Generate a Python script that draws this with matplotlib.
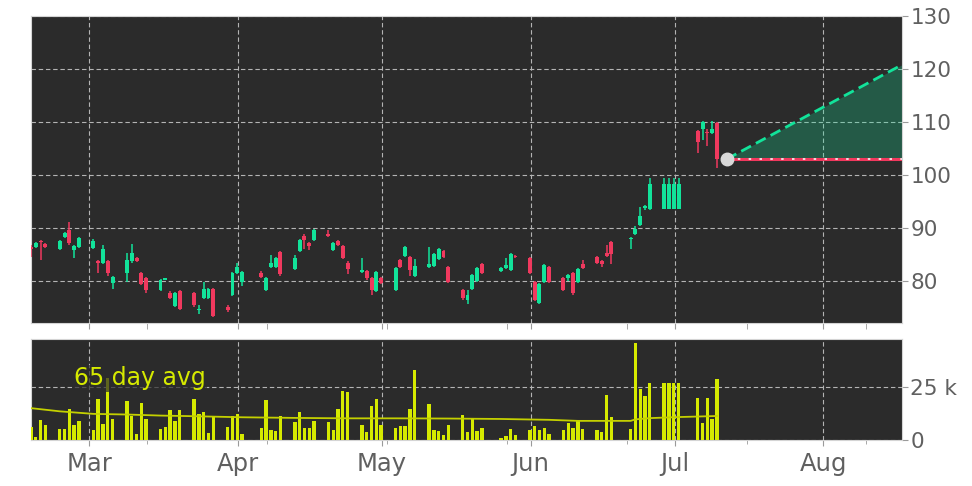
import numpy as np
import pandas as pd
import matplotlib
matplotlib.use('Agg')
import matplotlib.pyplot as plt
import matplotlib.dates as mdates


# trading days shown (a few weekdays are missing in the source)
skipped = ['2021-04-02', '2021-05-24', '2021-06-18', '2021-07-02']
days = pd.bdate_range('2021-02-16', '2021-07-09')
days = days[~days.isin(pd.to_datetime(skipped))]

opens = [86.5, 86.5, 87.6, 87.0, 86.1, 88.4, 89.6, 85.9, 86.5,
         86.2, 83.7, 83.5, 83.7, 79.7,
         81.6, 83.7, 84.4, 81.6, 80.5,
         78.3, 80.3, 77.7, 75.3, 78.2,
         77.7, 74.5, 76.9, 76.9, 78.5,
         75.1, 77.3, 81.6, 79.9,
         81.6, 78.4, 82.7, 82.7, 85.4,
         82.3, 85.6, 88.5, 87.2, 87.7,
         88.8, 85.9, 87.5, 86.6, 83.5,
         81.8, 81.9, 80.5, 78.1, 80.5,
         78.4, 84.0, 84.8, 84.6, 81.0,
         82.7, 82.8, 84.2, 85.7, 82.6,
         78.3, 76.4, 78.6, 80.1, 83.3,
         82.0, 82.4, 82.1, 84.8,
         84.4, 79.9, 75.9, 79.9, 82.6,
         80.5, 80.5, 81.6, 79.9, 83.3,
         84.6, 83.8, 85.3, 87.3,
         88.0, 88.9, 90.5, 93.8, 93.6,
         93.6, 93.6, 93.6, 93.6,
         108.3, 108.7, 108.2, 107.9, 109.9]
highs = [86.8, 87.4, 87.8, 87.2, 87.7, 89.2, 91.1, 86.9, 88.4,
         87.9, 84.0, 86.9, 84.0, 81.0,
         85.3, 87.0, 84.6, 81.8, 80.7,
         80.4, 80.6, 78.1, 78.0, 78.4,
         77.9, 75.4, 79.9, 78.7, 78.7,
         75.4, 81.8, 83.4, 82.0,
         82.0, 80.8, 84.9, 84.6, 85.6,
         85.0, 88.0, 88.9, 87.3, 89.8,
         89.6, 87.4, 87.7, 86.8, 83.7,
         84.4, 82.1, 80.7, 81.9, 80.7,
         82.7, 84.2, 86.7, 84.8, 84.1,
         86.5, 85.3, 86.3, 85.9, 82.8,
         78.5, 78.4, 81.3, 82.6, 83.5,
         82.6, 84.4, 85.3, 85.0,
         84.6, 80.1, 79.6, 83.3, 82.8,
         80.7, 81.3, 81.8, 82.4, 83.9,
         84.8, 84.0, 86.8, 87.5,
         88.4, 90.3, 94.0, 94.4, 99.4,
         99.4, 99.4, 99.4, 99.4,
         108.5, 110.2, 108.6, 110.2, 110.0]
lows = [84.6, 86.3, 83.9, 86.2, 85.9, 88.2, 86.8, 84.3, 86.3,
        86.0, 81.5, 83.3, 81.0, 78.6,
        79.9, 83.4, 83.6, 79.2, 77.8,
        78.1, 80.2, 76.6, 75.1, 74.6,
        75.2, 73.8, 76.7, 76.7, 73.3,
        74.2, 77.1, 81.4, 79.0,
        80.5, 78.1, 82.5, 82.5, 81.0,
        82.1, 85.4, 86.1, 85.9, 87.5,
        88.3, 85.7, 86.6, 84.1, 81.4,
        81.6, 80.3, 77.4, 77.9, 79.5,
        78.2, 82.5, 84.6, 81.0, 80.8,
        82.5, 82.6, 84.0, 84.3, 79.7,
        76.4, 75.6, 78.4, 79.9, 81.4,
        81.8, 82.2, 81.9, 84.3,
        81.3, 76.2, 75.7, 79.7, 79.7,
        78.2, 80.0, 77.4, 79.7, 82.3,
        83.3, 82.7, 84.6, 83.2,
        86.0, 88.7, 90.3, 93.4, 93.4,
        93.6, 93.6, 93.6, 93.6,
        104.2, 106.7, 105.5, 107.7, 101.4]
closes = [86.0, 87.2, 87.3, 86.4, 87.5, 89.0, 87.2, 86.7, 88.2,
          87.5, 83.4, 86.1, 81.5, 80.8,
          84.0, 85.3, 83.8, 79.4, 78.3,
          80.2, 80.5, 76.9, 77.8, 74.8,
          75.4, 74.7, 78.6, 78.5, 73.5,
          74.6, 81.5, 82.6, 81.8,
          80.8, 80.5, 83.5, 84.4, 81.3,
          84.4, 87.8, 87.8, 86.7, 89.6,
          88.5, 87.2, 86.8, 84.3, 82.2,
          82.1, 80.5, 78.3, 81.7, 79.7,
          82.5, 82.7, 86.5, 82.1, 82.8,
          83.3, 85.1, 86.1, 84.5, 79.9,
          76.9, 77.3, 81.1, 82.4, 81.6,
          82.4, 83.0, 85.1, 84.5,
          81.5, 76.4, 79.4, 83.1, 79.9,
          78.4, 81.1, 77.8, 82.2, 82.5,
          83.5, 83.2, 84.8, 85.1,
          88.2, 89.9, 92.3, 94.2, 98.4,
          98.4, 98.4, 98.4, 98.4,
          106.3, 110.0, 107.9, 108.6, 103.0]
# volume in thousands
volumes = [6.0, 1.6, 9.4, 7.1, 5.0, 5.0, 14.5, 7.1, 9.0,
           4.7, 19.2, 7.5, 29.0, 9.7,
           18.4, 11.5, 2.8, 17.6, 9.9,
           5.2, 6.0, 14.2, 9.1, 14.2,
           19.3, 12.3, 13.1, 3.5, 11.3,
           6.3, 11.3, 12.3, 2.8,
           5.8, 18.9, 4.7, 4.2, 11.3,
           8.5, 13.2, 5.5, 5.5, 9.0,
           8.5, 4.7, 14.5, 23.1, 22.6,
           7.1, 3.8, 16.0, 19.3, 7.1,
           5.5, 6.6, 6.6, 14.5, 33.0,
           17.0, 4.7, 4.2, 2.4, 7.1,
           11.8, 3.8, 10.2, 4.2, 5.5,
           0.8, 1.9, 5.2, 2.4,
           4.7, 6.6, 4.7, 5.7, 2.8,
           4.7, 7.9, 5.7, 9.0, 5.2,
           4.7, 3.8, 21.2, 10.7,
           5.2, 45.6, 24.1, 20.8, 27.0,
           27.0, 27.0, 27.0, 27.0,
           19.7, 8.2, 19.7, 9.9, 28.8]

avg_days = ['2021-02-16', '2021-02-22', '2021-03-01', '2021-03-08', '2021-03-15',
            '2021-03-22', '2021-04-01', '2021-04-12', '2021-04-23', '2021-05-03',
            '2021-05-14', '2021-05-25', '2021-06-04', '2021-06-10', '2021-06-21',
            '2021-06-22', '2021-06-25', '2021-07-01', '2021-07-09']
avg_values = [15.0, 13.5, 12.3, 12.0, 11.5, 11.2, 10.7, 10.4, 10.2, 10.2,
              10.1, 9.9, 9.5, 9.0, 9.0, 9.7, 10.3, 10.8, 11.3]

target_day = '2021-07-11'
last_price = 103.0
target_high = 120.8

price_ticks = [80, 90, 100, 110, 120, 130]
vol_ticks = [0, 25]
vol_labels = ['0', '25 k']

GREEN = '#12e39a'
RED = '#f0395e'
VOL = '#d6ea00'
BG = '#2b2b2b'
GRID = '#b4b4b4'
TXT = '#606060'


def main():
    close_shift = pd.Timedelta(hours=20)
    x = mdates.date2num(days + close_shift)
    o = np.array(opens)
    c = np.array(closes)
    up = c >= o
    colors = np.where(up, GREEN, RED)

    fig = plt.figure(figsize=(9.72, 4.86), dpi=100)
    fig.patch.set_facecolor('white')
    ax = fig.add_axes([0.0319, 0.3354, 0.8961, 0.6317])
    axv = fig.add_axes([0.0319, 0.0947, 0.8961, 0.2078], sharex=ax)

    for a in (ax, axv):
        a.set_facecolor(BG)
        for s in a.spines.values():
            s.set_color('#d4d4d4')
            s.set_linewidth(0.8)
        a.grid(True, which='major', color=GRID, linestyle=(0, (4, 2.5)), linewidth=0.8)
        a.set_axisbelow(True)
        a.yaxis.tick_right()
        a.tick_params(axis='y', which='both', colors='#9a9a9a', labelcolor=TXT,
                      labelsize=15.5, length=4, pad=2, left=False, right=True)
        a.tick_params(axis='x', which='both', colors='#9a9a9a', labelcolor=TXT,
                      labelsize=17.5, length=4)

    # candles
    ax.vlines(x, lows, highs, colors=colors, linewidth=1.1, zorder=3)
    ax.bar(x, np.abs(c - o), bottom=np.minimum(o, c), width=0.82,
           color=colors, linewidth=0, zorder=4)

    # projection
    t0 = mdates.date2num(pd.Timestamp(target_day) + close_shift)
    x_end = mdates.date2num(pd.Timestamp('2021-08-17 10:00'))
    ax.fill_between([t0, x_end], [last_price, last_price], [last_price, target_high],
                    color=GREEN, alpha=0.26, linewidth=0, zorder=2)
    ax.plot([t0, x_end], [last_price, target_high], color=GREEN, linewidth=2,
            linestyle=(0, (4, 2)), zorder=5)
    ax.plot([t0, x_end], [last_price, last_price], color=RED, linewidth=2.2, zorder=5)
    ax.plot([t0, x_end], [last_price, last_price], color='#f5f5f5', linewidth=1.2,
            linestyle=(0, (1.5, 5)), zorder=6)
    ax.plot([t0], [last_price], 'o', color='#d9d9d9', markersize=9, zorder=7)

    ax.set_ylim(72.1, 130)
    ax.set_yticks(price_ticks)
    ax.tick_params(axis='x', labelbottom=False)

    # volume
    axv.bar(x, volumes, width=0.7, color=VOL, linewidth=0, zorder=3)
    axv.plot(mdates.date2num(pd.to_datetime(avg_days) + close_shift), avg_values,
             color='#c4d000', linewidth=1.3, zorder=4)
    axv.text(0.049, 0.61, '65 day avg', transform=axv.transAxes, color=VOL,
             fontsize=17, va='center', ha='left', zorder=5,
             bbox=dict(facecolor=BG, alpha=0.7, edgecolor='none', pad=1))
    axv.set_ylim(0, 47.6)
    axv.set_yticks(vol_ticks)
    axv.set_yticklabels(vol_labels)

    axv.set_xlim(mdates.date2num(pd.Timestamp('2021-02-16 20:00')),
                 mdates.date2num(pd.Timestamp('2021-08-17 10:00')))
    axv.xaxis.set_major_locator(mdates.MonthLocator())
    axv.xaxis.set_major_formatter(mdates.DateFormatter('%b'))
    minor_days = pd.date_range('2021-03-13', '2021-08-17', freq='25D')
    axv.xaxis.set_minor_locator(matplotlib.ticker.FixedLocator(mdates.date2num(minor_days)))
    axv.tick_params(axis='x', which='minor', length=3)
    axv.tick_params(axis='x', which='major', pad=5)

    fig.savefig('out.png', dpi=100, facecolor='white')


if __name__ == '__main__':
    main()
